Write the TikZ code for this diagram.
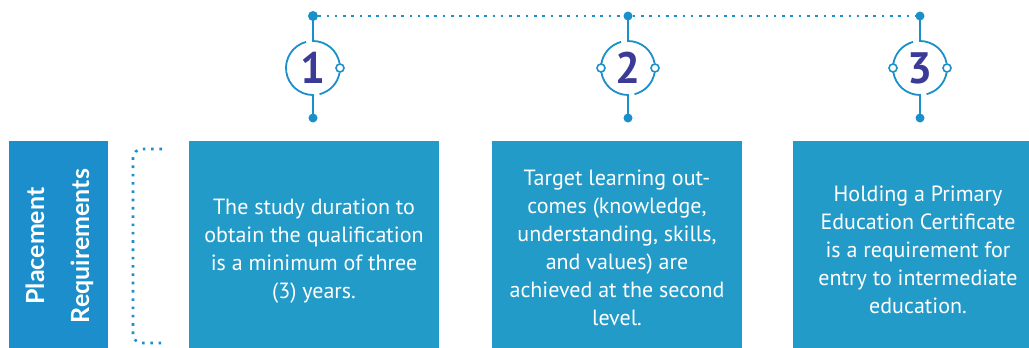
\documentclass[tikz,border=0pt]{standalone}
\usepackage{fontspec}
\setmainfont{PT Sans}
\newfontfamily\titlefont{Lato}
\usetikzlibrary{calc}
\definecolor{barblue}{HTML}{1B8ECB}
\definecolor{boxblue}{HTML}{239BC8}
\definecolor{lineblue}{HTML}{1A8FCA}
\definecolor{numcol}{HTML}{3B3A97}
\tikzset{
  panel/.style={fill=boxblue, draw=none, inner sep=0pt, anchor=north west},
  boxtext/.style={text=white, align=center, font=\fontsize{22}{28}\selectfont, inner sep=0pt},
  ring/.style={draw=lineblue, line width=1.8pt},
  dotnode/.style={circle, fill=lineblue, inner sep=0pt, minimum size=#1},
  knob/.style={circle, draw=lineblue, fill=white, line width=1.6pt, inner sep=0pt, minimum size=8pt},
  numtext/.style={text=numcol, font=\fontsize{44}{44}\selectfont\bfseries, inner sep=0pt},
  dotline/.style={draw=lineblue, line width=2.6pt, line cap=butt, dash pattern=on 2.6pt off 5.7pt},
}
\begin{document}
\begin{tikzpicture}[x=1pt,y=-1pt]
\useasboundingbox (0,0) rectangle (1029,348);
% panels
\node[panel, fill=barblue, minimum width=99pt, minimum height=207pt] (bar) at (9,141) {};
\node[panel, minimum width=250pt, minimum height=207pt] (p1) at (189,141) {};
\node[panel, minimum width=250pt, minimum height=207pt] (p2) at (492,141) {};
\node[panel, minimum width=236pt, minimum height=207pt] (p3) at (793,141) {};
% bar title
\node[rotate=90, text=white, align=center, inner sep=0pt,
      font=\titlefont\fontsize{25}{45}\selectfont\bfseries] (title) at (60,246) {Placement\\Requirements};
% bracket
\coordinate (bt) at (162,149);
\coordinate (bb) at (162,343);
\draw[dotline, rounded corners=9pt] (bt) -- (133,149) -- (133,343) -- (bb);
% texts
\node[boxtext] (tx1) at (314,251) {The study duration to\\obtain the qualification\\is a minimum of three\\(3) years.};
\node[boxtext] (tx2) at (617,248) {Target learning out-\\comes (knowledge,\\understanding, skills,\\and values) are\\achieved at the second\\level.};
\node[boxtext] (tx3) at (918,250) {Holding a Primary\\Education Certificate\\is a requirement for\\entry to intermediate\\education.};
% icons
\foreach \i/\x/\tr in {1/313/10, 2/628/9, 3/920/9} {
  \node[numtext] (n\i) at (\x,68) {\i};
  \node[dotnode=\tr pt] (t\i) at (\x,16) {};
  \node[dotnode=9pt] (b\i) at (\x,118) {};
  \draw[ring] (t\i.center) -- ($(n\i.center)+(0,-27)$) arc[start angle=-90, end angle=-10, radius=27];
  \draw[ring] ($(n\i.center)+(10:27)$) arc[start angle=10, end angle=76, radius=27];
  \draw[ring] (b\i.center) -- ($(n\i.center)+(0,27)$) arc[start angle=90, end angle=172, radius=27];
  \node[knob] (kr\i) at ($(n\i.center)+(27,0)$) {};
}
\draw[ring] ($(n1.center)+(172:27)$) arc[start angle=172, end angle=255, radius=27];
\foreach \i in {2,3} {
  \draw[ring] ($(n\i.center)+(-172:27)$) arc[start angle=-172, end angle=-105, radius=27];
  \node[knob] (kl\i) at ($(n\i.center)+(-27,0)$) {};
}
\draw[dotline] (t1) -- (t2) -- (t3);
\end{tikzpicture}
\end{document}
